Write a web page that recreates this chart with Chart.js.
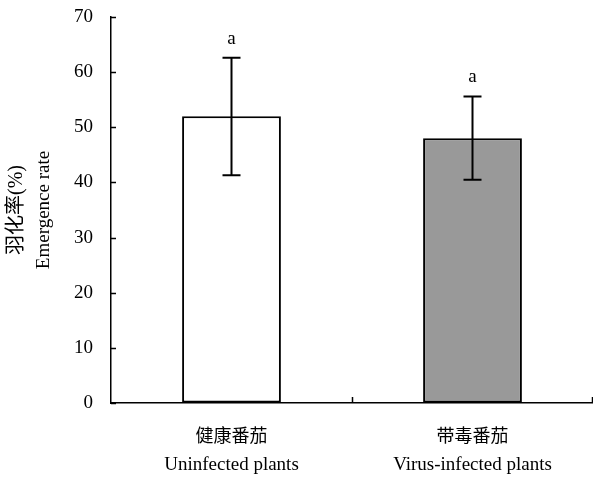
<!DOCTYPE html>
<html lang="zh">
<head>
    <meta charset="UTF-8">
    <title>Emergence rate</title>
    <script src="https://cdn.jsdelivr.net/npm/chart.js"></script>
    <style>
        body {
            margin: 0;
            padding: 0;
            background-color: white;
        }
        .chart-box {
            width: 593px;
            height: 477px;
            position: relative;
        }
    </style>
</head>
<body>
    <div class="chart-box">
        <canvas id="rateChart"></canvas>
    </div>

    <script>
        // Data
        const categoriesZh = ['健康番茄', '带毒番茄'];
        const categoriesEn = ['Uninfected plants', 'Virus-infected plants'];
        const meanRate = [52, 48];
        const errLow = [41.3, 40.5];
        const errHigh = [62.6, 55.6];
        const sigLetters = ['a', 'a'];
        const yTitleLines = ['羽化率(%)', 'Emergence rate'];

        const serif = "'Liberation Serif', 'Times New Roman', 'Noto Sans CJK SC', serif";

        // draws error bars, letters, inward tick marks and the two-line y title
        const extras = {
            id: 'extras',
            afterDatasetsDraw(chart) {
                const ctx = chart.ctx;
                const x = chart.scales.x;
                const y = chart.scales.y;
                const area = chart.chartArea;
                ctx.save();
                ctx.strokeStyle = '#000';
                ctx.lineWidth = 2;
                meanRate.forEach((v, i) => {
                    const cx = x.getPixelForValue(i);
                    const top = y.getPixelForValue(errHigh[i]);
                    const bot = y.getPixelForValue(errLow[i]);
                    ctx.beginPath();
                    ctx.moveTo(cx, top);
                    ctx.lineTo(cx, bot);
                    ctx.moveTo(cx - 9, top);
                    ctx.lineTo(cx + 9, top);
                    ctx.moveTo(cx - 9, bot);
                    ctx.lineTo(cx + 9, bot);
                    ctx.stroke();

                    ctx.fillStyle = '#000';
                    ctx.font = '19px ' + serif;
                    ctx.textAlign = 'center';
                    ctx.textBaseline = 'alphabetic';
                    ctx.fillText(sigLetters[i], cx, top - 14);
                });

                // tick marks pointing into the plot
                ctx.lineWidth = 1.5;
                ctx.beginPath();
                y.ticks.forEach(t => {
                    const py = Math.round(y.getPixelForValue(t.value)) + 0.5;
                    ctx.moveTo(area.left, py);
                    ctx.lineTo(area.left + 5, py);
                });
                const mid = (x.getPixelForValue(0) + x.getPixelForValue(1)) / 2;
                [mid, area.right - 1].forEach(px => {
                    ctx.moveTo(Math.round(px) + 0.5, area.bottom);
                    ctx.lineTo(Math.round(px) + 0.5, area.bottom - 6);
                });
                ctx.stroke();

                // x labels: chinese line and english line
                ctx.fillStyle = '#000';
                ctx.textAlign = 'center';
                ctx.textBaseline = 'middle';
                categoriesZh.forEach((zh, i) => {
                    const cx = x.getPixelForValue(i);
                    ctx.font = '18px ' + serif;
                    ctx.fillText(zh, cx, area.bottom + 34);
                    ctx.font = '19px ' + serif;
                    ctx.fillText(categoriesEn[i], cx, area.bottom + 62);
                });

                // y axis title, two rotated lines
                const cy = (area.top + area.bottom) / 2;
                [[17, yTitleLines[0], 20], [44, yTitleLines[1], 19]].forEach(([tx, txt, sz]) => {
                    ctx.save();
                    ctx.translate(tx, cy);
                    ctx.rotate(-Math.PI / 2);
                    ctx.font = sz + 'px ' + serif;
                    ctx.fillText(txt, 0, 0);
                    ctx.restore();
                });
                ctx.restore();
            }
        };

        const ctxRate = document.getElementById('rateChart').getContext('2d');
        const rateChart = new Chart(ctxRate, {
            type: 'bar',
            data: {
                labels: categoriesEn,
                datasets: [{
                    data: meanRate,
                    backgroundColor: ['#ffffff', '#999999'],
                    borderColor: '#000',
                    borderWidth: 2,
                    borderSkipped: false,
                    categoryPercentage: 1,
                    barPercentage: 0.41
                }]
            },
            options: {
                responsive: true,
                maintainAspectRatio: false,
                animation: false,
                layout: {
                    padding: { top: 17, right: 0, left: 0, bottom: 0 }
                },
                plugins: {
                    legend: { display: false },
                    tooltip: { enabled: false }
                },
                scales: {
                    x: {
                        grid: { display: false },
                        border: { color: '#000', width: 1.5 },
                        ticks: { display: false },
                        afterFit(scale) { scale.height = 74; }
                    },
                    y: {
                        min: 0,
                        max: 70,
                        grid: {
                            display: true,
                            drawOnChartArea: false,
                            drawTicks: true,
                            tickLength: 17,
                            tickColor: 'rgba(0,0,0,0)'
                        },
                        border: { color: '#000', width: 1.5 },
                        ticks: {
                            stepSize: 10,
                            color: '#000',
                            font: { family: serif, size: 19 },
                            padding: 1
                        },
                        afterFit(scale) { scale.width = 111; }
                    }
                }
            },
            plugins: [extras]
        });
    </script>
</body>
</html>
